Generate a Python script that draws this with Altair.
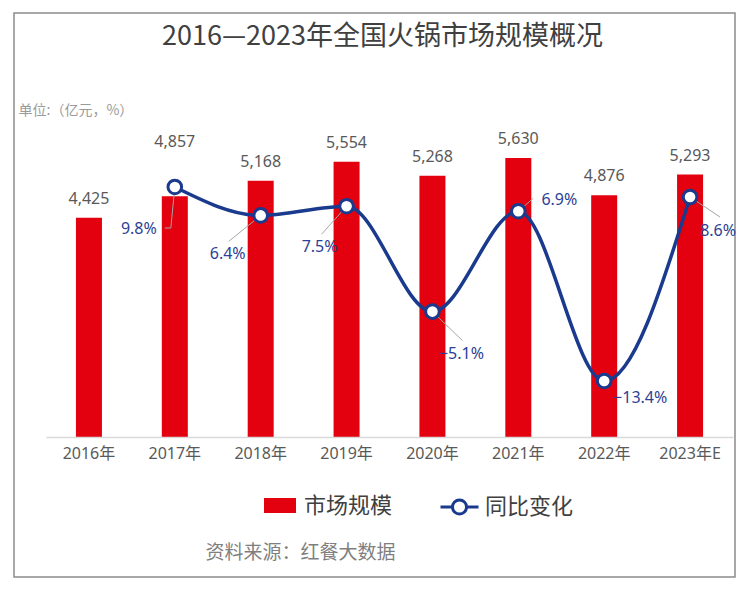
import altair as alt
import pandas as pd

years = ["2016年", "2017年", "2018年", "2019年", "2020年", "2021年", "2022年", "2023年E"]
market = [4425, 4857, 5168, 5554, 5268, 5630, 4876, 5293]
growth = [None, 9.8, 6.4, 7.5, -5.1, 6.9, -13.4, 8.6]

df = pd.DataFrame({"year": years, "market": market, "growth": growth})

RED = "#E3000F"
BLUE = "#1A3A8E"
LBLUE = "#2C3F96"
GRAY = "#595959"
CJK = "Noto Sans CJK SC"
LAT = "Noto Sans, Noto Sans CJK SC"

mscale = alt.Scale(domain=[0, 7000])
pscale = alt.Scale(domain=[-20.1, 21.4])

x_axis = alt.Axis(
    title="资料来源：红餐大数据", labelAngle=0, labelFontSize=16, labelColor=GRAY,
    labelFont=LAT, labelPadding=8, ticks=False, domainColor="#D9D9D9", domainWidth=1.5,
    titleX=159, titleY=115, titleAlign="left", titleBaseline="middle", titleFontSize=19,
    titleFontWeight="normal", titleColor="#7F7F7F", titleFont=CJK, zindex=1,
)
X = alt.X("year:N", sort=years, scale=alt.Scale(paddingInner=0, paddingOuter=0), axis=x_axis)

base = alt.Chart(df)

leg1 = alt.Legend(
    title=None, orient="none", legendX=218, legendY=399.5, padding=0,
    symbolType="M-1,-0.47H1V0.47H-1Z", symbolSize=1024, symbolStrokeWidth=0,
    symbolOpacity=1, labelFont=CJK, labelFontSize=22, labelColor="#404040", labelOffset=8,
)
leg2 = alt.Legend(
    title=None, orient="none", legendX=393, legendY=396.5, padding=0,
    symbolType="M-1,0H-0.37M0.37,0H1M-0.37,0A0.37,0.37,0,1,0,0.37,0A0.37,0.37,0,1,0,-0.37,0",
    symbolSize=1444, symbolStrokeWidth=3, symbolFillColor="white", symbolStrokeColor=BLUE,
    symbolOpacity=1, labelFont=CJK, labelFontSize=22, labelColor="#404040", labelOffset=5,
)

bars = base.mark_bar(size=26).encode(
    x=X,
    y=alt.Y("market:Q", scale=mscale, axis=alt.Axis(
        title="单位:（亿元，%）", labels=False, ticks=False, domain=False, grid=False,
        titleAngle=0, titleX=-28, titleY=20, titleAlign="left", titleBaseline="middle",
        titleFontSize=14, titleFontWeight="normal", titleColor="#9A9A9A", titleFont=CJK,
        zindex=1)),
    color=alt.Color("s1:N", scale=alt.Scale(domain=["市场规模"], range=[RED]), legend=leg1),
).transform_calculate(s1="'市场规模'")

bar_labels = base.mark_text(dy=-19, fontSize=16, color=GRAY, font=LAT).encode(
    x=X, y=alt.Y("market:Q", scale=mscale), text=alt.Text("market:Q", format=","),
).transform_filter(alt.datum.year != "2017年")

bar_label17 = base.mark_text(dy=-54, fontSize=16, color=GRAY, font=LAT).encode(
    x=X, y=alt.Y("market:Q", scale=mscale), text=alt.Text("market:Q", format=","),
).transform_filter(alt.datum.year == "2017年")

left = alt.layer(bars, bar_labels, bar_label17)

# leader-line end offsets (px) and label offsets (px)
leaders = {
    "2017年": [(0, 0, -4, 41), (-4, 41, -10, 41)],
    "2018年": [(0, 0, -32, 26)],
    "2019年": [(0, 0, -25, 28)],
    "2020年": [(0, 0, 30, 29)],
    "2021年": [(0, 0, 15, -13)],
    "2023年E": [(0, 0, 30, 20)],
}
label_pos = {
    "2017年": (-36, 42),
    "2018年": (-33, 39),
    "2019年": (-27, 41),
    "2020年": (29, 42),
    "2021年": (41, -11),
    "2022年": (36, 17),
    "2023年E": (28, 34),
}

valid = base.transform_filter("isValid(datum.growth)")
Yp = alt.Y("growth:Q", scale=pscale, axis=None)

right_layers = []
for yr, segs in leaders.items():
    for (x1, y1, x2, y2) in segs:
        right_layers.append(
            valid.mark_rule(color="#A6A6A6", strokeWidth=1, xOffset=x1, yOffset=y1,
                            x2Offset=x2, y2Offset=y2).encode(
                x=X, y=Yp, x2=alt.X2("year:N"), y2=alt.Y2("growth:Q"),
            ).transform_filter(alt.datum.year == yr)
        )

sscale = alt.Scale(domain=["同比变化"], range=[BLUE])
line = valid.mark_line(interpolate="monotone", strokeWidth=3.5).encode(
    x=X, y=Yp, stroke=alt.Stroke("s2:N", scale=sscale, legend=leg2),
).transform_calculate(s2="'同比变化'")
points = valid.mark_point(filled=True, fill="white", size=185, strokeWidth=3, opacity=1).encode(
    x=X, y=Yp, stroke=alt.Stroke("s2:N", scale=sscale, legend=leg2),
).transform_calculate(s2="'同比变化'")
right_layers += [line, points]

for yr, (dx, dy) in label_pos.items():
    right_layers.append(
        valid.mark_text(dx=dx, dy=dy, fontSize=16, color=LBLUE, font=LAT).encode(
            x=X, y=Yp, text="label:N",
        ).transform_calculate(label="format(datum.growth, '.1f') + '%'")
        .transform_filter(alt.datum.year == yr)
    )

right = alt.layer(*right_layers)

frame = alt.Chart(pd.DataFrame({"f": [0]})).mark_rect(
    fillOpacity=0, stroke="#8C8C8C", strokeWidth=1.5
).encode(x=alt.value(-32), x2=alt.value(689), y=alt.value(-77), y2=alt.value(487))

chart = alt.layer(frame, left, right).resolve_scale(
    y="independent", color="independent", stroke="independent"
).properties(
    width=687, height=347,
    autosize=alt.AutoSizeParams(type="none"),
    padding={"left": 38, "top": 82, "right": 15, "bottom": 146},
    title=alt.TitleParams(
        text="2016—2023年全国火锅市场规模概况", fontSize=27, font=CJK, fontWeight="normal",
        color="#404040", anchor="middle", frame="group", dx=-7, baseline="middle", offset=-52,
    ),
).configure_view(stroke=None)

chart.save("out.html", embed_options={"renderer": "svg", "actions": False})
